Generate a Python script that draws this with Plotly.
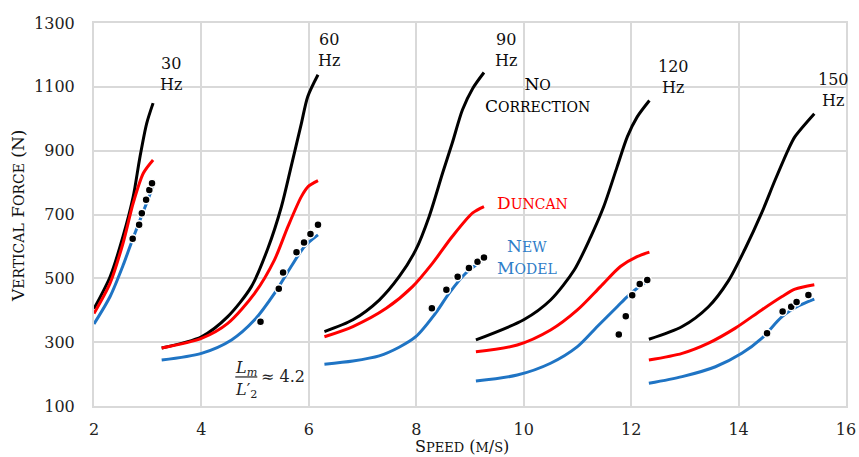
import plotly.graph_objects as go

# ---------------- data ----------------
nc30_x = [2.0, 2.30, 2.54, 2.73, 2.85, 2.98, 3.10]
nc30_y = [405, 505, 631, 756, 875, 985, 1049]
du30_x = [2.0, 2.30, 2.54, 2.73, 2.92, 3.10]
du30_y = [390, 485, 610, 736, 830, 871]
nm30_x = [2.0, 2.30, 2.54, 2.67, 2.85, 3.00, 3.10]
nm30_y = [357, 443, 540, 600, 680, 745, 790]
ex30_x = [2.72, 2.84, 2.89, 2.97, 3.03, 3.08]
ex30_y = [624, 668, 704, 746, 777, 798]

nc60_x = [3.26, 4.0, 4.49, 4.93, 5.24, 5.49, 5.67, 5.86, 5.98, 6.17]
nc60_y = [282, 317, 380, 474, 595, 725, 850, 985, 1070, 1138]
du60_x = [3.26, 4.0, 4.49, 4.99, 5.36, 5.61, 5.86, 5.99, 6.17]
du60_y = [282, 312, 359, 453, 558, 662, 756, 788, 806]
nm60_x = [3.26, 4.0, 4.56, 4.99, 5.36, 5.67, 5.92, 6.17]
nm60_y = [244, 265, 307, 370, 453, 537, 600, 636]
ex60_x = [5.10, 5.44, 5.52, 5.77, 5.91, 6.03, 6.17]
ex60_y = [364, 467, 518, 582, 612, 639, 668]

nc90_x = [6.29, 6.82, 7.31, 7.68, 7.99, 8.24, 8.49, 8.67, 8.86, 9.05, 9.26]
nc90_y = [333, 370, 432, 505, 589, 694, 830, 924, 1028, 1095, 1145]
du90_x = [6.29, 6.82, 7.44, 7.93, 8.30, 8.67, 9.05, 9.26]
du90_y = [317, 349, 406, 474, 547, 631, 705, 725]
nm90_x = [6.29, 6.82, 7.31, 7.68, 7.99, 8.36, 8.61, 8.92, 9.26]
nm90_y = [231, 241, 257, 284, 317, 391, 453, 516, 560]
ex90_x = [8.29, 8.56, 8.77, 8.98, 9.14, 9.26]
ex90_y = [406, 464, 505, 532, 552, 565]

nc120_x = [9.11, 10.0, 10.50, 10.94, 11.25, 11.49, 11.74, 11.93, 12.11, 12.34]
nc120_y = [307, 370, 432, 526, 631, 725, 850, 944, 1005, 1057]
du120_x = [9.11, 9.88, 10.50, 11.0, 11.43, 11.80, 12.11, 12.34]
du120_y = [270, 291, 338, 401, 474, 537, 568, 582]
nm120_x = [9.11, 9.88, 10.50, 11.0, 11.37, 11.74, 11.93, 12.16, 12.34]
nm120_y = [178, 197, 234, 286, 349, 411, 443, 475, 495]
ex120_x = [11.77, 11.90, 12.02, 12.16, 12.30]
ex120_y = [324, 381, 447, 482, 495]

nc150_x = [12.33, 12.95, 13.44, 13.81, 14.12, 14.43, 14.68, 14.93, 15.05, 15.41]
nc150_y = [309, 349, 411, 492, 592, 705, 808, 905, 944, 1016]
du150_x = [12.33, 12.95, 13.44, 13.94, 14.43, 14.81, 15.05, 15.41]
du150_y = [244, 265, 297, 344, 401, 443, 466, 480]
nm150_x = [12.33, 12.95, 13.57, 14.06, 14.43, 14.81, 15.12, 15.41]
nm150_y = [171, 192, 223, 265, 312, 380, 414, 435]
ex150_x = [14.53, 14.82, 14.98, 15.08, 15.30]
ex150_y = [328, 396, 411, 426, 448]

freq_labels = ["30<br>Hz", "60<br>Hz", "90<br>Hz", "120<br>Hz", "150<br>Hz"]
freq_label_x = [3.43, 6.38, 9.67, 12.78, 15.76]
freq_label_y = [1141, 1216, 1216, 1132, 1091]

x_ticks = [2, 4, 6, 8, 10, 12, 14, 16]
y_ticks = [100, 300, 500, 700, 900, 1100, 1300]

# ---------------- styling ----------------
FONT = "DejaVu Serif"
BLACK = "#000000"
RED = "#ff0000"
BLUE = "#1f74c4"
BLUE_TXT = "#2e7dc8"
GRID = "#d9d9d9"
TXT = "#222222"


def smallcaps(text, big=17, small=14):
    out = []
    for ch in text:
        if ch.isalpha() and ch.islower():
            out.append(f"<span style='font-size:{small}px'>{ch.upper()}</span>")
        else:
            out.append(f"<span style='font-size:{big}px'>{ch}</span>")
    return "".join(out)


fig = go.Figure()

groups = [
    (nc30_x, nc30_y, du30_x, du30_y, nm30_x, nm30_y),
    (nc60_x, nc60_y, du60_x, du60_y, nm60_x, nm60_y),
    (nc90_x, nc90_y, du90_x, du90_y, nm90_x, nm90_y),
    (nc120_x, nc120_y, du120_x, du120_y, nm120_x, nm120_y),
    (nc150_x, nc150_y, du150_x, du150_y, nm150_x, nm150_y),
]
for ncx, ncy, dux, duy, nmx, nmy in groups:
    for xs, ys, col in ((ncx, ncy, BLACK), (dux, duy, RED), (nmx, nmy, BLUE)):
        fig.add_trace(go.Scatter(x=xs, y=ys, mode="lines",
                                 line=dict(color=col, width=3, shape="spline", smoothing=0.8),
                                 showlegend=False, hoverinfo="skip"))

for ex, ey in ((ex30_x, ex30_y), (ex60_x, ex60_y), (ex90_x, ex90_y),
               (ex120_x, ex120_y), (ex150_x, ex150_y)):
    fig.add_trace(go.Scatter(x=ex, y=ey, mode="markers",
                             marker=dict(color=BLACK, size=8, line=dict(color="white", width=1.5)),
                             showlegend=False, hoverinfo="skip"))

annotations = []
for t, ax, ay in zip(freq_labels, freq_label_x, freq_label_y):
    annotations.append(dict(x=ax, y=ay, xref="x", yref="y", text=t, showarrow=False,
                            font=dict(family=FONT, size=16, color="#111111"),
                            xanchor="center", yanchor="middle"))

annotations += [
    dict(x=10.26, y=1075, xref="x", yref="y", showarrow=False,
         text=smallcaps("No") + "<br>" + smallcaps("Correction"),
         font=dict(family=FONT, size=17, color=BLACK), xanchor="center", yanchor="middle"),
    dict(x=10.17, y=736, xref="x", yref="y", showarrow=False,
         text=smallcaps("Duncan"),
         font=dict(family=FONT, size=17, color=RED), xanchor="center", yanchor="middle"),
    dict(x=10.06, y=568, xref="x", yref="y", showarrow=False,
         text=smallcaps("New") + "<br>" + smallcaps("Model"),
         font=dict(family=FONT, size=17, color=BLUE_TXT), xanchor="center", yanchor="middle"),
    # formula  Lm / L'2 ≈ 4.2
    dict(x=4.83, y=218, xref="x", yref="y", showarrow=False,
         text="<i>L<sub>m</sub></i>",
         font=dict(family=FONT, size=16, color=TXT), xanchor="center", yanchor="middle"),
    dict(x=4.83, y=150, xref="x", yref="y", showarrow=False,
         text="<i>L</i>′<sub>2</sub>",
         font=dict(family=FONT, size=16, color=TXT), xanchor="center", yanchor="middle"),
    dict(x=5.07, y=192, xref="x", yref="y", showarrow=False,
         text="≈ 4.2",
         font=dict(family=FONT, size=16, color=TXT), xanchor="left", yanchor="middle"),
    # axis titles
    dict(x=-0.101, y=0.496, xref="paper", yref="paper", showarrow=False, textangle=-90,
         text=smallcaps("Vertical Force (N)", 17, 14),
         font=dict(family=FONT, size=17, color="#111111"), xanchor="center", yanchor="middle"),
    dict(x=0.489, y=-0.105, xref="paper", yref="paper", showarrow=False,
         text=smallcaps("Speed (m/s)", 16, 13),
         font=dict(family=FONT, size=16, color="#111111"), xanchor="center", yanchor="middle"),
]

fig.add_shape(type="line", xref="x", yref="y", x0=4.63, x1=5.04, y0=191, y1=191,
              line=dict(color=TXT, width=1.2))

fig.update_layout(
    width=859, height=457,
    margin=dict(l=94, r=13, t=23, b=51),
    paper_bgcolor="white", plot_bgcolor="white",
    annotations=annotations,
    font=dict(family=FONT, size=16, color=TXT),
)
fig.update_xaxes(range=[2, 16], tickvals=x_ticks, showgrid=True, gridcolor=GRID, gridwidth=2,
                 showline=True, mirror=True, linecolor=GRID, linewidth=2, zeroline=False,
                 ticks="", ticklabelstandoff=8, automargin=False,
                 tickfont=dict(family=FONT, size=16, color=TXT))
fig.update_yaxes(range=[100, 1300], tickvals=y_ticks, showgrid=True, gridcolor=GRID, gridwidth=2,
                 showline=True, mirror=True, linecolor=GRID, linewidth=2, zeroline=False,
                 ticks="", ticklabelstandoff=14, automargin=False,
                 tickfont=dict(family=FONT, size=16, color=TXT))

fig.write_html("out.html")
